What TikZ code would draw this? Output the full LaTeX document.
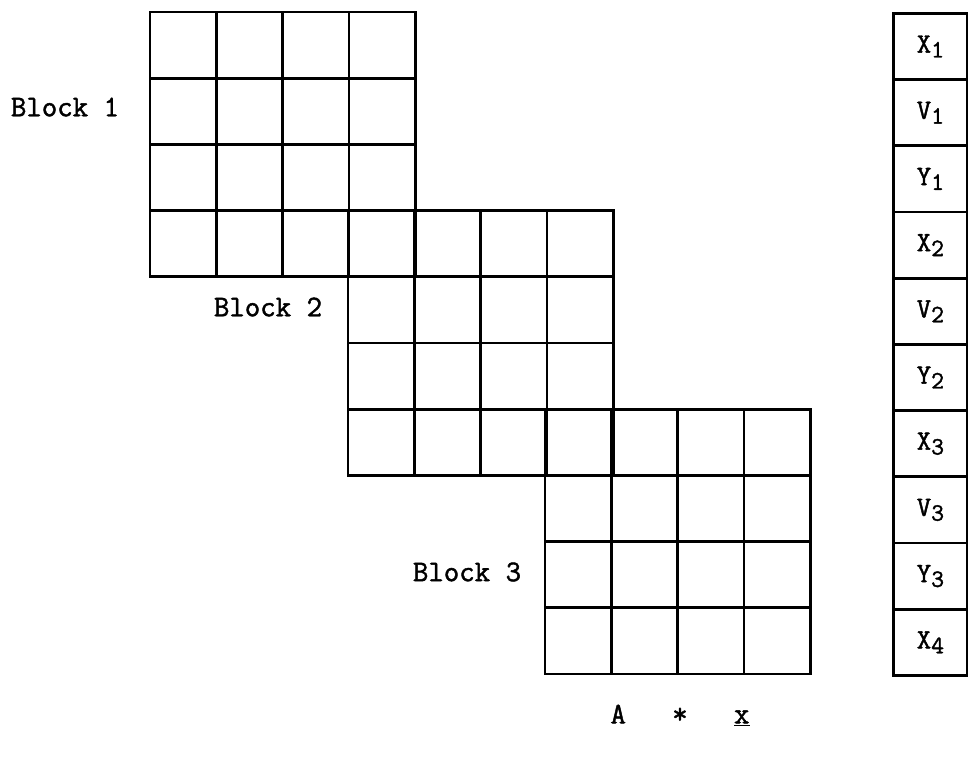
\documentclass[tikz,border=0pt]{standalone}
\usepackage{fontspec}
\newfontfamily\tw{Latin Modern Mono}[FakeBold=1.5]
\begin{document}
\begin{tikzpicture}[x=1pt,y=-1pt,
  gridline/.style={line width=2.8pt,line cap=rect},
  lbl/.style={font=\tw\fontsize{30}{33}\selectfont,inner sep=0pt,anchor=center},
  entry/.style={draw,line width=2.8pt,minimum width=74pt,minimum height=66.2pt,inner sep=0pt,
     font=\tw\fontsize{28}{30}\selectfont,anchor=north west}]
\useasboundingbox (0,0) rectangle (968,756);
% Block 1
\draw[gridline,xstep=66.3pt,ystep=66.2pt,shift={(150,12)}] (0,0) grid (265.2,264.8);
% Block 2
\draw[gridline,xstep=66.3pt,ystep=66.2pt,shift={(348,210.6)}] (0,0) grid (265.2,264.8);
% Block 3
\draw[gridline,xstep=66.3pt,ystep=66.2pt,shift={(545,409.2)}] (0,0) grid (265.2,264.8);
% vector
\newcommand{\vsub}[2]{#1\raisebox{-0.4ex}{\fontsize{25}{27}\selectfont #2}}
\node[entry] (x1) at (892,12) {\vsub{X}{1}};
\node[entry] (v1) at (892,78.2) {\vsub{V}{1}};
\node[entry] (y1) at (892,144.4) {\vsub{Y}{1}};
\node[entry] (x2) at (892,210.6) {\vsub{X}{2}};
\node[entry] (v2) at (892,276.8) {\vsub{V}{2}};
\node[entry] (y2) at (892,343) {\vsub{Y}{2}};
\node[entry] (x3) at (892,409.2) {\vsub{X}{3}};
\node[entry] (v3) at (892,475.4) {\vsub{V}{3}};
\node[entry] (y3) at (892,541.6) {\vsub{Y}{3}};
\node[entry] (x4) at (892,607.8) {\vsub{X}{4}};
% labels
\node[lbl] (b1) at (65,107) {Block 1};
\node[lbl] (b2) at (268,307) {Block 2};
\node[lbl] (b3) at (467,572) {Block 3};
\node[lbl] (ax) at (680,715) {A~~~*~~~\underline{x}};
\end{tikzpicture}
\end{document}
